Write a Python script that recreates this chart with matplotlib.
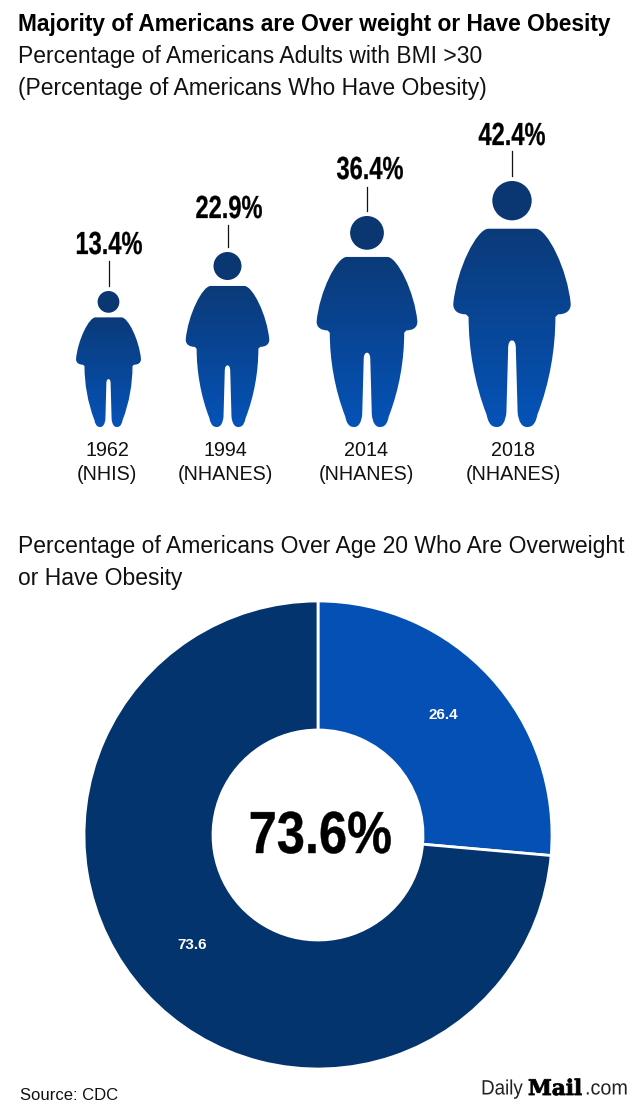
import numpy as np
import matplotlib
matplotlib.use('Agg')
import matplotlib.pyplot as plt
from matplotlib.colors import LinearSegmentedColormap
from matplotlib.path import Path
from matplotlib.patches import PathPatch, Circle
from matplotlib.patheffects import AbstractPathEffect
from matplotlib.transforms import Affine2D

# data
years = ['1962', '1994', '2014', '2018']
surveys = ['(NHIS)', '(NHANES)', '(NHANES)', '(NHANES)']
obesity_pct = [13.4, 22.9, 36.4, 42.4]
donut_values = [26.4, 73.6]
donut_centre = '73.6%'

# layout of the four figures, in pixels of the picture
person_x = [108.5, 227.5, 367, 512]
person_h = [136, 175, 211, 246]
feet_y = 427
label_x = [109, 229, 370, 512]
label_y = [246, 210, 171, 137]
line_top = [261, 225, 187, 151]
year_x = [107, 225, 366, 513]

DARK = '#04346e'
BLUE = '#0550b4'
FONT = 'Liberation Sans'

plt.rcParams['font.family'] = FONT


class Squeeze(AbstractPathEffect):
    # no condensed font installed, so narrow the glyphs around their centre,
    # a thin outline gives back the weight they lose
    def __init__(self, sx, x_px, lw=0.0):
        super().__init__()
        self.sx = sx
        self.x_px = x_px
        self.lw = lw

    def draw_path(self, renderer, gc, tpath, affine, rgbFace=None):
        m = affine + Affine2D().translate(-self.x_px, 0).scale(self.sx, 1).translate(self.x_px, 0)
        gc0 = renderer.new_gc()
        gc0.copy_properties(gc)
        gc0.set_linewidth(self.lw)
        gc0.set_foreground(rgbFace)
        renderer.draw_path(gc0, tpath, m, rgbFace)
        gc0.restore()


def body_path(cx, h):
    # right half of the body, from the shoulder down to the crotch, in units of
    # the figure height; the left half is the same thing mirrored
    half_w = 0.48 * h / 2
    top = feet_y - h
    right = [(Path.MOVETO, (0, 0.194)), (Path.LINETO, (0.40, 0.194)),
             (Path.CURVE4, (0.60, 0.194)), (Path.CURVE4, (0.94, 0.36)), (Path.CURVE4, (0.995, 0.50)),
             (Path.CURVE4, (0.995, 0.53)), (Path.CURVE4, (0.90, 0.542)), (Path.CURVE4, (0.78, 0.542)),
             (Path.LINETO, (0.735, 0.553)),
             (Path.CURVE4, (0.735, 0.68)), (Path.CURVE4, (0.64, 0.82)), (Path.CURVE4, (0.43, 0.95)),
             (Path.CURVE4, (0.39, 1.0)), (Path.CURVE4, (0.30, 1.0)), (Path.CURVE4, (0.25, 1.0)),
             (Path.CURVE4, (0.17, 1.0)), (Path.CURVE4, (0.11, 0.98)), (Path.CURVE4, (0.095, 0.94)),
             (Path.LINETO, (0.065, 0.68)),
             (Path.CURVE4, (0.065, 0.655)), (Path.CURVE4, (0.03, 0.648)), (Path.CURVE4, (0, 0.648))]
    codes = [c for c, p in right]
    pts = [p for c, p in right]
    # walk back up the left side
    back_codes = []
    back_pts = []
    for i in range(len(right) - 1, 0, -1):
        back_codes.append(codes[i])
        back_pts.append((-pts[i - 1][0], pts[i - 1][1]))
    all_codes = codes + back_codes
    all_pts = pts + back_pts
    xy = np.array([(cx + u * half_w, top + v * h) for u, v in all_pts])
    return Path(xy, all_codes)


fig = plt.figure(figsize=(6.34, 11.09), dpi=100)
ax = fig.add_axes([0, 0, 1, 1])

body_cmap = LinearSegmentedColormap.from_list('body', ['#0b3a78', '#0553b8'])
grad = np.linspace(0, 1, 256).reshape(-1, 1)

for i in range(len(years)):
    cx = person_x[i]
    h = person_h[i]
    top = feet_y - h
    ax.add_patch(Circle((cx, top + 0.08 * h), 0.08 * h, color='#0a3672', lw=0))
    patch = PathPatch(body_path(cx, h), fc='none', ec='none')
    ax.add_patch(patch)
    im = ax.imshow(grad, cmap=body_cmap, aspect='auto', zorder=2,
                   extent=(cx - h * 0.26, cx + h * 0.26, feet_y, top + 0.19 * h))
    im.set_clip_path(patch)
    ax.plot([cx, cx], [line_top[i], top - 5], color='#111111', lw=0.9)
    t = ax.text(label_x[i], label_y[i], '%.1f%%' % obesity_pct[i], weight='bold',
                fontsize=23, ha='center', va='center', color='black')
    t.set_path_effects([Squeeze(0.74, label_x[i], 0.2)])
    ax.text(year_x[i], 451, years[i], fontsize=14.2, ha='center', va='center', color='#111111')
    ax.text(year_x[i], 474, surveys[i], fontsize=14.2, ha='center', va='center', color='#111111')

ax.set_xlim(0, 634)
ax.set_ylim(1109, 0)
ax.axis('off')

ax.text(18, 25, 'Majority of Americans are Over weight or Have Obesity', fontsize=16.4, weight='bold',
        ha='left', va='center', color='black')
ax.text(18, 57, 'Percentage of Americans Adults with BMI >30', fontsize=16.45, ha='left', va='center', color='#111111')
ax.text(18, 88, '(Percentage of Americans Who Have Obesity)', fontsize=16.45, ha='left', va='center', color='#111111')
ax.text(18, 546, 'Percentage of Americans Over Age 20 Who Are Overweight', fontsize=16.5, ha='left', va='center', color='#111111')
ax.text(18, 578, 'or Have Obesity', fontsize=16.5, ha='left', va='center', color='#111111')

ax.text(20, 1095, 'Source: CDC', fontsize=12, ha='left', va='center', color='#111111')
t = ax.text(502, 1089, 'Daily', fontsize=15, ha='center', va='center', color='#222222')
t.set_path_effects([Squeeze(0.9, 502)])
t = ax.text(555, 1089, 'Mail', fontsize=15.5, family='DejaVu Serif', weight='bold', ha='center', va='center', color='black')
t.set_path_effects([Squeeze(1.0, 555, 0.6)])
t = ax.text(606.5, 1089, '.com', fontsize=15, ha='center', va='center', color='#222222')
t.set_path_effects([Squeeze(0.95, 606.5)])

# donut sits in its own axes: centre (318, 835), radius 234 pixels
pie_ax = fig.add_axes([(318 - 236) / 634, 1 - (835 + 236) / 1109, 472 / 634, 472 / 1109])
pie_ax.pie(donut_values, colors=[BLUE, DARK], startangle=90, counterclock=False, radius=234 / 236,
           wedgeprops={'width': 129 / 236, 'edgecolor': 'white', 'linewidth': 2})
pie_ax.set_xlim(-1, 1)
pie_ax.set_ylim(-1, 1)
t = pie_ax.text(0.01, (835 - 853) / 236, donut_centre, weight='bold', fontsize=42.8, ha='center', va='baseline', color='black')
t.set_path_effects([Squeeze(0.85, 320.5, 0.3)])
pie_ax.text((443 - 318) / 236, (835 - 715) / 236, '%.1f' % donut_values[0], weight='bold', fontsize=11,
            ha='center', va='center', color='white')
pie_ax.text((192.5 - 318) / 236, (835 - 945) / 236, '%.1f' % donut_values[1], weight='bold', fontsize=11,
            ha='center', va='center', color='white')

fig.savefig('out.png', dpi=100)
